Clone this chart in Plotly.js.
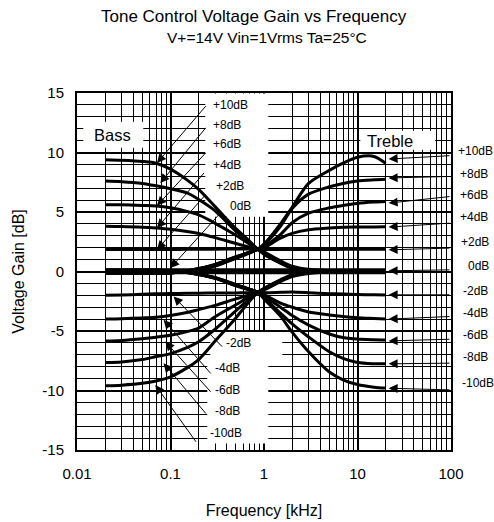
<!DOCTYPE html>
<html><head><meta charset="utf-8">
<script src="https://cdn.plot.ly/plotly-3.0.1.min.js"></script>
<style>html,body{margin:0;padding:0;background:#fff}#chart{width:494px;height:522px}</style>
</head><body><div id="chart"></div>
<script>
// ---------- data ----------
const freqKHz = [0.02, 0.03, 0.05, 0.07, 0.1, 0.15, 0.2, 0.3, 0.5, 0.7, 0.85, 1, 1.5, 2, 3, 5, 7, 10, 15, 20];

const bassP10 = [9.4, 9.35, 9.25, 9.1, 8.6, 7.7, 6.9, 5.45, 3.6, 2.55, 1.9, 1.45, 0.7, 0.28, 0.07, 0.02, 0, 0, 0, 0];
const bassP8  = [7.6, 7.55, 7.4, 7.2, 6.95, 6.6, 6.05, 5.1, 3.4, 2.45, 1.9, 1.5, 0.72, 0.3, 0.08, 0.02, 0.01, 0, 0, 0];
const bassP6  = [5.6, 5.6, 5.55, 5.5, 5.35, 5.05, 4.75, 4.05, 3.05, 2.3, 1.9, 1.55, 0.75, 0.32, 0.1, 0.03, 0.01, 0, 0, 0];
const bassP4  = [3.8, 3.78, 3.72, 3.65, 3.55, 3.37, 3.2, 2.85, 2.35, 2.05, 1.9, 1.6, 0.8, 0.35, 0.12, 0.04, 0.02, 0.01, 0, 0];
const bassP2  = [1.85, 1.85, 1.85, 1.85, 1.85, 1.86, 1.87, 1.88, 1.89, 1.9, 1.9, 1.65, 0.9, 0.45, 0.18, 0.06, 0.03, 0.02, 0.01, 0.01];
const bass0   = [0.15, 0.15, 0.15, 0.15, 0.15, 0.15, 0.15, 0.15, 0.15, 0.15, 0.15, 0.15, 0.15, 0.15, 0.15, 0.15, 0.15, 0.15, 0.15, 0.15];
const bassM2  = [-2.0, -1.97, -1.92, -1.88, -1.85, -1.83, -1.82, -1.81, -1.8, -1.79, -1.78, -1.55, -0.85, -0.42, -0.16, -0.05, -0.03, -0.02, -0.01, -0.01];
const bassM4  = [-4.0, -3.97, -3.9, -3.84, -3.7, -3.45, -3.2, -2.85, -2.3, -1.98, -1.78, -1.5, -0.78, -0.35, -0.12, -0.04, -0.02, -0.01, 0, 0];
const bassM6  = [-5.85, -5.8, -5.65, -5.52, -5.35, -5.05, -4.75, -3.8, -2.8, -2.1, -1.78, -1.48, -0.75, -0.32, -0.1, -0.03, -0.01, 0, 0, 0];
const bassM8  = [-7.65, -7.6, -7.4, -7.15, -6.9, -6.4, -5.9, -4.85, -3.3, -2.3, -1.78, -1.45, -0.72, -0.3, -0.08, -0.02, -0.01, 0, 0, 0];
const bassM10 = [-9.6, -9.55, -9.4, -9.2, -8.85, -8.1, -7.4, -5.85, -3.9, -2.5, -1.78, -1.42, -0.7, -0.28, -0.07, -0.02, 0, 0, 0, 0];

const trebleP10 = [-0.15, -0.15, -0.15, -0.15, -0.12, 0.05, 0.25, 0.6, 1.25, 1.62, 1.85, 2.3, 4.0, 5.4, 7.4, 8.5, 9.1, 9.6, 9.67, 9.1];
const trebleP8  = [-0.15, -0.15, -0.15, -0.15, -0.12, 0.05, 0.25, 0.58, 1.22, 1.6, 1.85, 2.25, 3.8, 5.3, 6.5, 7.12, 7.4, 7.6, 7.7, 7.75];
const trebleP6  = [-0.15, -0.15, -0.15, -0.15, -0.12, 0.04, 0.22, 0.55, 1.2, 1.6, 1.85, 2.1, 3.1, 4.1, 4.9, 5.35, 5.55, 5.72, 5.83, 5.88];
const trebleP4  = [-0.15, -0.15, -0.15, -0.15, -0.1, 0.03, 0.2, 0.5, 1.15, 1.58, 1.85, 2.0, 2.8, 3.2, 3.5, 3.65, 3.72, 3.74, 3.75, 3.76];
const trebleP2  = [-0.15, -0.15, -0.15, -0.15, -0.1, 0.0, 0.15, 0.45, 1.1, 1.55, 1.85, 1.85, 1.85, 1.84, 1.84, 1.85, 1.86, 1.87, 1.88, 1.88];
const treble0   = [-0.1, -0.1, -0.1, -0.1, -0.1, -0.1, -0.1, -0.1, -0.1, -0.1, -0.1, -0.1, -0.1, -0.1, -0.1, -0.1, -0.1, -0.1, -0.1, -0.1];
const trebleM2  = [0.1, 0.1, 0.1, 0.1, 0.06, -0.05, -0.2, -0.5, -1.1, -1.48, -1.72, -1.78, -1.75, -1.73, -1.78, -1.86, -1.9, -1.94, -1.96, -1.97];
const trebleM4  = [0.1, 0.1, 0.1, 0.1, 0.07, -0.07, -0.22, -0.52, -1.12, -1.5, -1.72, -1.95, -2.66, -3.0, -3.4, -3.65, -3.78, -3.88, -3.95, -4.0];
const trebleM6  = [0.1, 0.1, 0.1, 0.1, 0.07, -0.08, -0.25, -0.55, -1.15, -1.5, -1.72, -2.1, -3.0, -3.7, -4.5, -5.25, -5.55, -5.68, -5.73, -5.75];
const trebleM8  = [0.1, 0.1, 0.1, 0.1, 0.07, -0.08, -0.25, -0.56, -1.17, -1.52, -1.72, -2.2, -3.5, -4.4, -5.5, -6.75, -7.3, -7.65, -7.75, -7.76];
const trebleM10 = [0.1, 0.1, 0.1, 0.1, 0.07, -0.09, -0.26, -0.58, -1.2, -1.55, -1.72, -2.3, -3.75, -5.1, -6.75, -8.45, -9.1, -9.5, -9.72, -9.8];

const levelLabels = ['+10dB', '+8dB', '+6dB', '+4dB', '+2dB', '0dB', '-2dB', '-4dB', '-6dB', '-8dB', '-10dB'];
const xTickVals = [0.01, 0.1, 1, 10, 100];
const xTickText = ['0.01', '0.1', '1', '10', '100'];
const xMinorVals = [0.02, 0.03, 0.04, 0.05, 0.06, 0.07, 0.08, 0.09,
                    0.2, 0.3, 0.4, 0.5, 0.6, 0.7, 0.8, 0.9,
                    2, 3, 4, 5, 6, 7, 8, 9,
                    20, 30, 40, 50, 60, 70, 80, 90];
const yTickVals = [-15, -10, -5, 0, 5, 10, 15];
const yTickText = ['-15', '-10', '-5', '0', '5', '10', '15'];
const titleLines = ['Tone Control Voltage Gain vs Frequency', 'V+=14V Vin=1Vrms Ta=25°C'];
const xTitle = 'Frequency [kHz]';
const yTitle = 'Voltage Gain [dB]';
const bassName = 'Bass';
const trebleName = 'Treble';

// ---------- traces ----------
const bassSeries = [bassP10, bassP8, bassP6, bassP4, bassP2, bass0, bassM2, bassM4, bassM6, bassM8, bassM10];
const trebleSeries = [trebleP10, trebleP8, trebleP6, trebleP4, trebleP2, treble0, trebleM2, trebleM4, trebleM6, trebleM8, trebleM10];
const traces = bassSeries.concat(trebleSeries).map(function (vals) {
  return { x: freqKHz, y: vals, type: 'scatter', mode: 'lines',
           line: { color: '#000', width: 3, shape: 'spline', smoothing: 0.8 },
           hoverinfo: 'skip', showlegend: false };
});

// ---------- layout (annotation placement) ----------
const FONT = 'Liberation Sans, Arial, sans-serif';
const annotations = [];

// in-plot bass labels: [log10 x, dB]
const bassLabelAt = [[-0.556, 14.02], [-0.556, 12.34], [-0.556, 10.74], [-0.556, 8.97], [-0.521, 7.21], [-0.379, 5.47],
                     [-0.414, -6.02], [-0.539, -8.12], [-0.539, -9.95], [-0.532, -11.69], [-0.5925, -13.59]];
// bass arrows: [head log x, head dB, tail log x, tail dB]
const bassArrowAt = [[-1.1444, 9.12, -0.6096, 14.02], [-1.1091, 7.43, -0.6096, 12.2], [-1.1444, 5.53, -0.6096, 10.09],
                     [-1.1444, 3.65, -0.6278, 8.41], [-1.1444, 1.83, -0.6096, 6.59], [-1.0021, 0.29, -0.4674, 4.91],
                     [-0.9668, -2.1, -0.4321, -6.44], [-1.0738, -4.06, -0.556, -8.69], [-1.0556, -5.89, -0.556, -10.23],
                     [-1.0738, -7.7, -0.6096, -12.05], [-1.1626, -9.53, -0.7166, -14.43]];
// treble arrows: [head dB, tail dB]
const trebleArrowAt = [[9.45, 9.74], [7.86, 7.99], [5.75, 6.31], [3.73, 4.07], [1.82, 1.97], [0.06, 0.14],
                       [-1.96, -1.96], [-4.0, -3.78], [-5.83, -5.69], [-7.76, -7.7], [-9.81, -9.95]];
// treble labels (outside plot): [paper x, dB]
const trebleLabelAt = [[1.0169, 10.09], [1.0203, 8.19], [1.0203, 6.45], [1.0203, 4.58], [1.023, 2.52], [1.0428, 0.48],
                       [1.0302, -1.62], [1.0302, -3.5], [1.0302, -5.32], [1.0302, -7.15], [1.0262, -9.39]];

levelLabels.forEach(function (lab, i) {
  annotations.push({ x: bassLabelAt[i][0], y: bassLabelAt[i][1], xref: 'x', yref: 'y', text: lab, showarrow: false,
                     xanchor: 'left', yanchor: 'middle', borderpad: 0, font: { family: FONT, size: 12, color: '#000' } });
  const a = bassArrowAt[i];
  annotations.push({ x: a[0], y: a[1], ax: a[2], ay: a[3], xref: 'x', yref: 'y', axref: 'x', ayref: 'y', text: '',
                     showarrow: true, arrowhead: 2, arrowsize: 1.8, arrowwidth: 1, arrowcolor: '#000', standoff: 0 });
  const t = trebleArrowAt[i];
  annotations.push({ x: 1.3326, y: t[0], ax: 2, ay: t[1], xref: 'x', yref: 'y', axref: 'x', ayref: 'y', text: '',
                     showarrow: true, arrowhead: 2, arrowsize: 1.8, arrowwidth: 1, arrowcolor: '#000', standoff: 0 });
  annotations.push({ x: trebleLabelAt[i][0], y: trebleLabelAt[i][1], xref: 'paper', yref: 'y', text: lab, showarrow: false,
                     xanchor: 'left', yanchor: 'middle', borderpad: 0, font: { family: FONT, size: 12, color: '#000' } });
});
annotations.push({ x: -1.6257, y: 11.44, xref: 'x', yref: 'y', text: bassName, showarrow: false,
                   font: { family: FONT, size: 16.5, color: '#000' } });
annotations.push({ x: 1.3422, y: 10.93, xref: 'x', yref: 'y', text: trebleName, showarrow: false,
                   font: { family: FONT, size: 16.5, color: '#000' } });
annotations.push({ x: 0.4725, y: 1.2148, xref: 'paper', yref: 'paper', text: titleLines[0], showarrow: false,
                   xanchor: 'center', yanchor: 'middle', font: { family: FONT, size: 17, color: '#000' } });
annotations.push({ x: 0.508, y: 1.1542, xref: 'paper', yref: 'paper', text: titleLines[1], showarrow: false,
                   xanchor: 'center', yanchor: 'middle', font: { family: FONT, size: 15.5, color: '#000' } });

// white label backgrounds, above the grid and below the curves (x in kHz, y in dB)
function whiteBox(x0, x1, y0, y1) {
  return { type: 'rect', xref: 'x', yref: 'y', x0: x0, x1: x1, y0: y0, y1: y1,
           fillcolor: '#fff', line: { width: 0 }, layer: 'between' };
}
const shapes = [
  whiteBox(0.01167, 0.0512, 10.40, 12.585),
  whiteBox(10.72, 67.8, 10.233, 11.829),
  whiteBox(0.2355, 1.112, 4.596, 14.95),
  whiteBox(0.2665, 1.569, -7.851, -5.076),
  whiteBox(0.2475, 1.112, -14.45, -7.851)
];

const layout = {
  width: 494, height: 522,
  margin: { l: 77, r: 43, t: 93, b: 72, pad: 0 },
  paper_bgcolor: '#fff', plot_bgcolor: '#fff',
  font: { family: FONT, color: '#000', size: 15 },
  showlegend: false,
  xaxis: {
    type: 'log', range: [-2, 2], tickmode: 'array', tickvals: xTickVals, ticktext: xTickText,
    showgrid: true, gridcolor: '#000', gridwidth: 2, zeroline: false,
    minor: { tickmode: 'array', tickvals: xMinorVals, showgrid: true, gridcolor: '#000', gridwidth: 1, ticks: '' },
    showline: true, mirror: true, linecolor: '#000', linewidth: 2, ticks: '',
    tickfont: { family: FONT, size: 15, color: '#000' }, ticklabelstandoff: 9,
    title: { text: xTitle, font: { family: FONT, size: 16, color: '#000' }, standoff: 24 },
    fixedrange: true
  },
  yaxis: {
    range: [-15, 15], tickmode: 'array', tickvals: yTickVals, ticktext: yTickText,
    showgrid: true, gridcolor: '#000', gridwidth: 2, zeroline: false,
    minor: { dtick: 1, tick0: 0, showgrid: true, gridcolor: '#000', gridwidth: 1, ticks: '' },
    showline: true, mirror: true, linecolor: '#000', linewidth: 2, ticks: '',
    tickfont: { family: FONT, size: 15, color: '#000' }, ticklabelstandoff: 8,
    title: { text: yTitle, font: { family: FONT, size: 16, color: '#000' }, standoff: 14 },
    fixedrange: true
  },
  annotations: annotations,
  shapes: shapes
};

Plotly.newPlot('chart', traces, layout, { displayModeBar: false, staticPlot: true });
</script>
</body></html>
